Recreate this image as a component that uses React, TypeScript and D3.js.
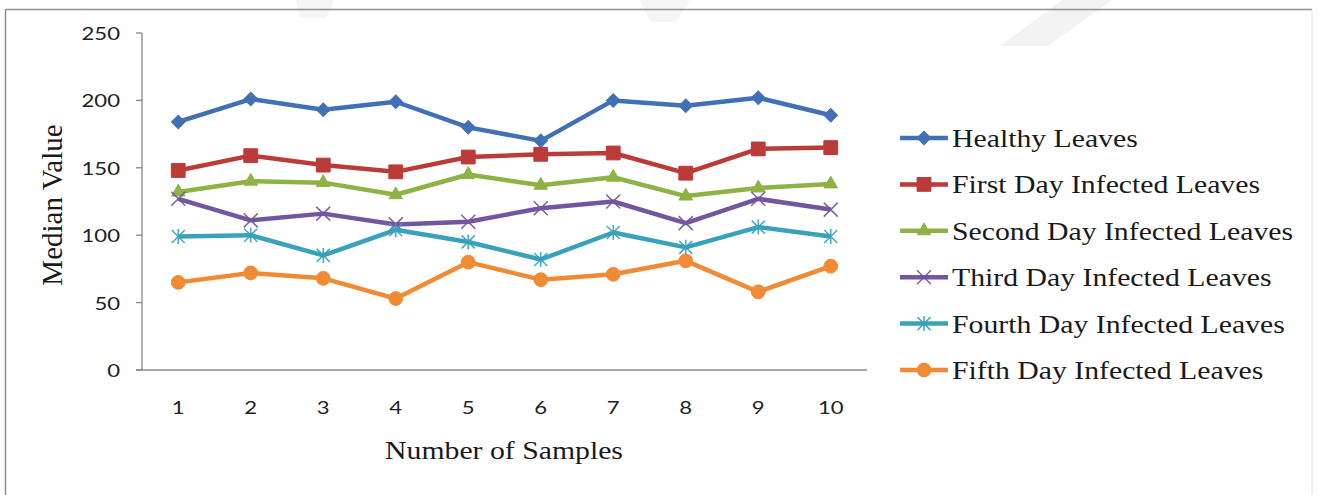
import React from "react";
import * as d3 from "d3";

const samples = [1, 2, 3, 4, 5, 6, 7, 8, 9, 10];
const healthy = [184, 201, 193, 199, 180, 170, 200, 196, 202, 189];
const firstDay = [148, 159, 152, 147, 158, 160, 161, 146, 164, 165];
const secondDay = [132, 140, 139, 130, 145, 137, 143, 129, 135, 138];
const thirdDay = [127, 111, 116, 108, 110, 120, 125, 109, 127, 119];
const fourthDay = [99, 100, 85, 104, 95, 82, 102, 91, 106, 99];
const fifthDay = [65, 72, 68, 53, 80, 67, 71, 81, 58, 77];
const yTicks = [0, 50, 100, 150, 200, 250];
const seriesNames = [
  "Healthy Leaves",
  "First Day Infected Leaves",
  "Second Day Infected Leaves",
  "Third Day Infected Leaves",
  "Fourth Day Infected Leaves",
  "Fifth Day Infected Leaves",
];
const seriesValues = [healthy, firstDay, secondDay, thirdDay, fourthDay, fifthDay];
const colors = ["#4270b6", "#bb3b38", "#8db345", "#7455a0", "#39a2bb", "#f08a35"];
const markerKinds = ["diamond", "square", "triangle", "times", "star", "circle"];

const W = 1319;
const H = 495;
const SX = 1.19;
const serif = "'Times New Roman','Liberation Serif',serif";
const sans = "Lato, Carlito, Calibri, 'Open Sans', sans-serif";

function markerPath(kind: string): { d: string; filled: boolean; rot: number } {
  switch (kind) {
    case "diamond":
      return { d: d3.symbol(d3.symbolSquare, 92)()!, filled: true, rot: 45 };
    case "square":
      return { d: d3.symbol(d3.symbolSquare, 190)()!, filled: true, rot: 0 };
    case "triangle":
      return { d: d3.symbol(d3.symbolTriangle, 80)()!, filled: true, rot: 0 };
    case "circle":
      return { d: d3.symbol(d3.symbolCircle, 150)()!, filled: true, rot: 0 };
    case "times": {
      const p = d3.path();
      const r = 7;
      p.moveTo(-r, -r); p.lineTo(r, r); p.moveTo(-r, r); p.lineTo(r, -r);
      return { d: p.toString(), filled: false, rot: 0 };
    }
    default: {
      const p = d3.path();
      const r = 6.5;
      p.moveTo(-r, -r); p.lineTo(r, r); p.moveTo(-r, r); p.lineTo(r, -r);
      p.moveTo(0, -r - 1); p.lineTo(0, r + 1);
      return { d: p.toString(), filled: false, rot: 0 };
    }
  }
}

function Marker({ kind, color, x, y }: { kind: string; color: string; x: number; y: number }) {
  const m = markerPath(kind);
  return (
    <path
      d={m.d}
      transform={`translate(${x},${y}) rotate(${m.rot})`}
      fill={m.filled ? color : "none"}
      stroke={color}
      strokeWidth={m.filled ? 1 : 1.6}
      opacity={m.filled ? 1 : 0.9}
    />
  );
}

function SText(props: {
  x: number; y: number; size: number; family: string; anchor?: string;
  fill?: string; sx?: number; rotate?: number; children: React.ReactNode;
}) {
  const { x, y, size, family, anchor = "start", fill = "#1a1a1a", sx = SX, rotate, children } = props;
  return (
    <text
      transform={`translate(${x},${y}) scale(${sx},1)${rotate ? ` rotate(${rotate})` : ""}`}
      fontSize={size}
      fontFamily={family}
      textAnchor={anchor as any}
      fill={fill}
    >
      {children}
    </text>
  );
}

export default function App() {
  const x = d3.scaleBand<number>().domain(samples).range([142, 867]);
  const cx = (d: number) => (x(d) as number) + x.bandwidth() / 2;
  const y = d3.scaleLinear().domain([0, 250]).range([370, 33]);
  const line = d3
    .line<number>()
    .x((_, i) => cx(samples[i]))
    .y((v) => y(v));

  const legendX0 = 900;
  const legendX1 = 948;
  const legendY = d3.scalePoint<number>().domain(d3.range(6)).range([138, 370]);

  return (
    <svg
      width={W}
      height={H}
      viewBox={`0 0 ${W} ${H}`}
      style={{ position: "absolute", left: 0, top: 0, background: "#fff" }}
    >
      <rect x={0} y={0} width={W} height={H} fill="#fff" />
      {/* faint watermark pieces */}
      <polygon points="1062,0 1112,0 1048,46 1000,46" fill="#f3f3f3" />
      <polygon points="296,0 334,0 326,18 300,18" fill="#f5f5f5" />
      <polygon points="640,0 690,0 676,22 650,22" fill="#f5f5f5" />
      {/* frame */}
      <line x1={5.5} y1={9.5} x2={1312} y2={9.5} stroke="#8f8f8f" strokeWidth={1.5} />
      <line x1={5.5} y1={9.5} x2={5.5} y2={H} stroke="#8f8f8f" strokeWidth={1.5} />
      <line x1={1312} y1={9.5} x2={1312} y2={H} stroke="#e2e2e2" strokeWidth={1} />

      {/* axes */}
      <line x1={142} y1={y(250)} x2={142} y2={y(0)} stroke="#888" strokeWidth={1.3} />
      <line x1={136} y1={y(0)} x2={867} y2={y(0)} stroke="#888" strokeWidth={1.3} />
      {yTicks.map((t) => (
        <g key={t}>
          <line x1={136} x2={142} y1={y(t)} y2={y(t)} stroke="#888" strokeWidth={1.3} />
          <SText x={120} y={y(t) + 7} size={17} family={sans} anchor="end" fill="#222" sx={1.3}>
            {t}
          </SText>
        </g>
      ))}
      {samples.map((s) => (
        <SText key={s} x={cx(s)} y={414} size={17} family={sans} anchor="middle" fill="#222" sx={1.3}>
          {s}
        </SText>
      ))}

      {/* titles */}
      <SText x={62} y={205} size={29} family={serif} anchor="middle" sx={1.05} rotate={-90}>
        Median Value
      </SText>
      <SText x={504} y={459} size={25} family={serif} anchor="middle">
        Number of Samples
      </SText>

      {/* series */}
      {seriesValues.map((vals, si) => (
        <g key={si}>
          <path d={line(vals) || ""} fill="none" stroke={colors[si]} strokeWidth={4.5} strokeLinejoin="round" />
          {vals.map((v, i) => (
            <Marker key={i} kind={markerKinds[si]} color={colors[si]} x={cx(samples[i])} y={y(v)} />
          ))}
        </g>
      ))}

      {/* legend */}
      {seriesNames.map((name, si) => {
        const ly = legendY(si) as number;
        return (
          <g key={name}>
            <line x1={legendX0} x2={legendX1} y1={ly} y2={ly} stroke={colors[si]} strokeWidth={4.5} />
            <Marker kind={markerKinds[si]} color={colors[si]} x={(legendX0 + legendX1) / 2} y={ly} />
            <SText x={952} y={ly + 9} size={25} family={serif}>
              {name}
            </SText>
          </g>
        );
      })}
    </svg>
  );
}
